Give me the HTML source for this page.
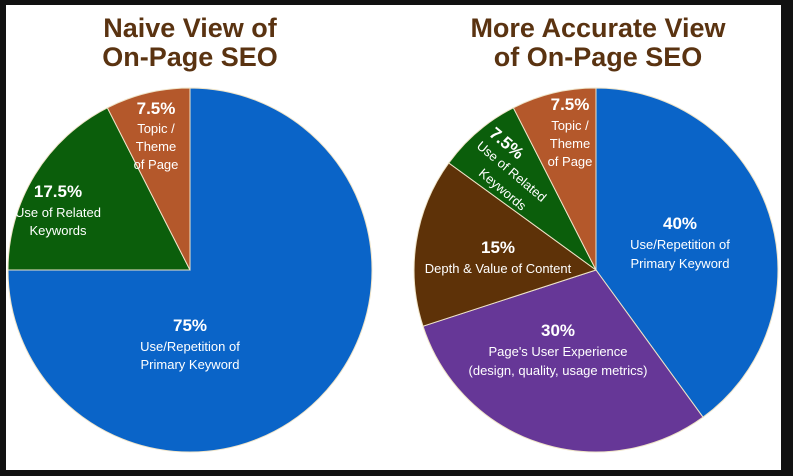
<!DOCTYPE html>
<html><head><style>
html,body{margin:0;padding:0;background:#111;}
svg{display:block}
text{font-family:"Liberation Sans",Arial,sans-serif;fill:#fff;text-anchor:middle}
.t{fill:#5a3311;font-weight:bold;font-size:27px}
.p{font-weight:bold;font-size:17px}
.l{font-size:13px}
</style></head><body>
<svg width="793" height="476" viewBox="0 0 793 476">
<rect x="0" y="0" width="793" height="476" fill="#111"/>
<rect x="6" y="5" width="775" height="465" fill="#fff"/>
<text class="t" x="190" y="37">Naive View of</text>
<text class="t" x="190" y="66">On-Page SEO</text>
<text class="t" x="598" y="37">More Accurate View</text>
<text class="t" x="598" y="66">of On-Page SEO</text>
<g stroke="#efe4c8" stroke-width="1">
<path d="M190,270 L190,88 A182,182 0 1 1 8,270 Z" fill="#0a64c8"/>
<path d="M190,270 L8,270 A182,182 0 0 1 107.4,107.8 Z" fill="#0b5e0b"/>
<path d="M190,270 L107.4,107.8 A182,182 0 0 1 190,88 Z" fill="#b4582b"/>
<path d="M596,270 L596,88 A182,182 0 0 1 703,417.2 Z" fill="#0a64c8"/>
<path d="M596,270 L703,417.2 A182,182 0 0 1 423,326.2 Z" fill="#663797"/>
<path d="M596,270 L423,326.2 A182,182 0 0 1 448.8,163 Z" fill="#5e3208"/>
<path d="M596,270 L448.8,163 A182,182 0 0 1 513.4,107.8 Z" fill="#0b5e0b"/>
<path d="M596,270 L513.4,107.8 A182,182 0 0 1 596,88 Z" fill="#b4582b"/>
</g>
<text class="p" x="156" y="114">7.5%</text>
<text class="l" x="156" y="133">Topic /</text>
<text class="l" x="156" y="151">Theme</text>
<text class="l" x="156" y="169">of Page</text>
<text class="p" x="58" y="197">17.5%</text>
<text class="l" x="58" y="217">Use of Related</text>
<text class="l" x="58" y="235">Keywords</text>
<text class="p" x="190" y="331">75%</text>
<text class="l" x="190" y="351">Use/Repetition of</text>
<text class="l" x="190" y="369">Primary Keyword</text>
<text class="p" x="570" y="110">7.5%</text>
<text class="l" x="570" y="130">Topic /</text>
<text class="l" x="570" y="148">Theme</text>
<text class="l" x="570" y="166">of Page</text>
<text class="p" transform="translate(507,143) rotate(40)" y="6">7.5%</text>
<text class="l" transform="translate(512,171) rotate(40)" y="5">Use of Related</text>
<text class="l" transform="translate(503,189) rotate(40)" y="5">Keywords</text>
<text class="p" x="498" y="253">15%</text>
<text class="l" x="498" y="273">Depth &amp; Value of Content</text>
<text class="p" x="680" y="229">40%</text>
<text class="l" x="680" y="249">Use/Repetition of</text>
<text class="l" x="680" y="268">Primary Keyword</text>
<text class="p" x="558" y="336">30%</text>
<text class="l" x="558" y="356">Page's User Experience</text>
<text class="l" x="558" y="375">(design, quality, usage metrics)</text>
</svg>
</body></html>
